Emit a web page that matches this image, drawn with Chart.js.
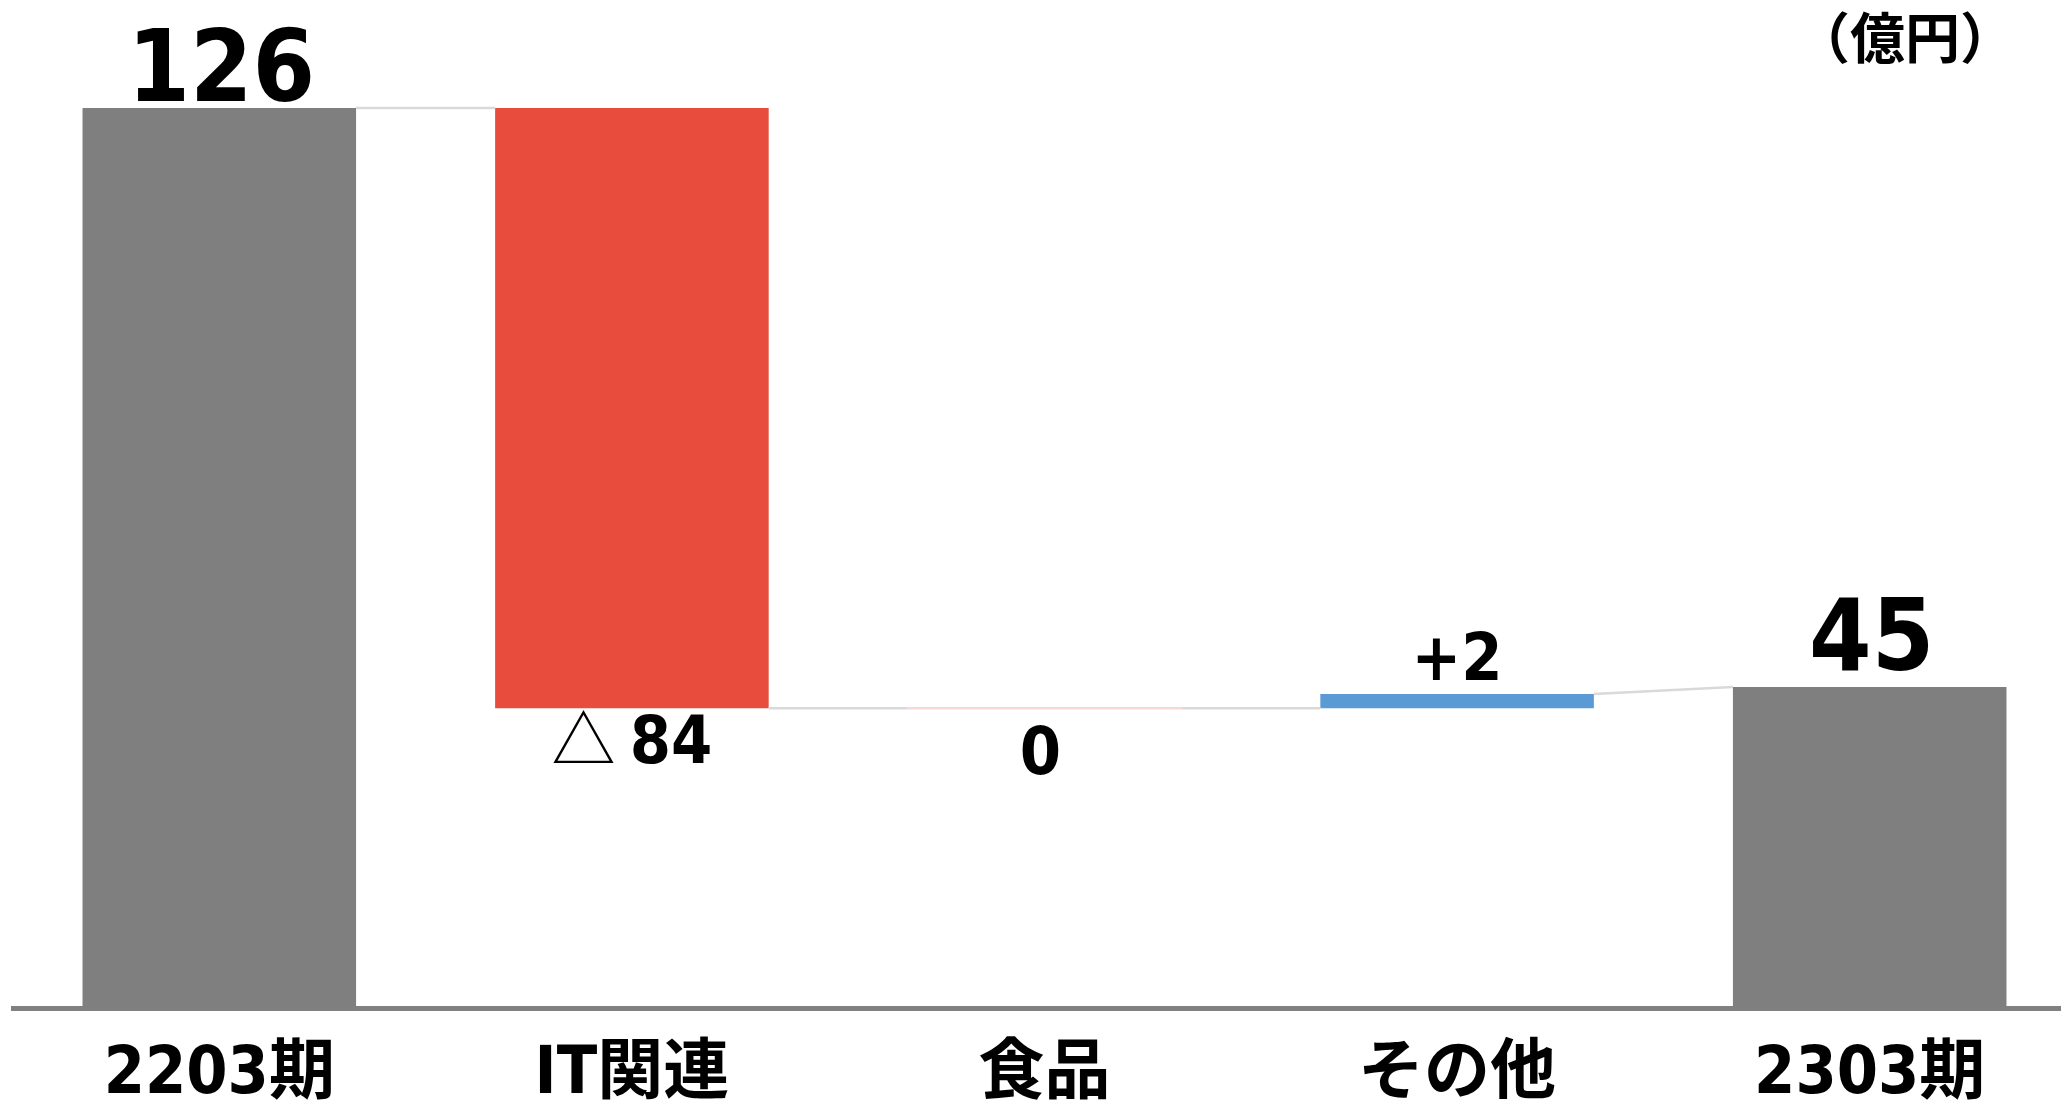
<!DOCTYPE html>
<html lang="ja">
<head>
<meta charset="utf-8">
<title>営業利益 増減</title>
<script src="https://cdn.jsdelivr.net/npm/chart.js@4.4.1/dist/chart.umd.min.js"></script>
<style>
    html, body { margin: 0; padding: 0; background: #fff; overflow: hidden; }
    #wrap { position: relative; width: 2076px; height: 1101px; }
</style>
</head>
<body>
<div id="wrap"><canvas id="bridgeChart"></canvas></div>
<script>
const categories = ["2203期", "IT関連", "食品", "その他", "2303期"];
const openingTotal = 126;
const changeValues = [-84, 0, 2];
const closingTotal = 45;
const unitLabel = "（億円）";

const FONT = '"DejaVu Sans Condensed", "Noto Sans CJK JP", sans-serif';
const CJK = '"Noto Sans CJK JP", sans-serif';
const GRAY = "#7f7f7f";
const RED = "#e84c3d";
const BLUE = "#5b9bd5";

// floating bar ranges plus the level each bar starts and ends at
const ranges = [[0, openingTotal]];
const startLevels = [openingTotal];
const endLevels = [openingTotal];
let level = openingTotal;
changeValues.forEach(c => {
    const next = level + c;
    ranges.push([Math.min(level, next), Math.max(level, next)]);
    startLevels.push(level);
    endLevels.push(next);
    level = next;
});
ranges.push([0, closingTotal]);
startLevels.push(closingTotal);
endLevels.push(closingTotal);

const barColors = [GRAY, ...changeValues.map(c => c > 0 ? BLUE : RED), GRAY];

const connectorPlugin = {
    id: "connectors",
    afterDatasetsDraw(chart) {
        const ctx = chart.ctx;
        const y = chart.scales.y;
        const bars = chart.getDatasetMeta(0).data;
        ctx.save();
        ctx.lineWidth = 2.5;
        for (let i = 0; i < bars.length - 1; i++) {
            const a = bars[i], b = bars[i + 1];
            ctx.strokeStyle = "#d9d9d9";
            ctx.beginPath();
            ctx.moveTo(a.x + a.width / 2, y.getPixelForValue(endLevels[i]));
            ctx.lineTo(b.x - b.width / 2, y.getPixelForValue(startLevels[i + 1]));
            ctx.stroke();
        }
        // flat changes still show a faint line across the bar
        bars.forEach((bar, i) => {
            if (i === 0 || i === bars.length - 1 || changeValues[i - 1] !== 0) return;
            const py = y.getPixelForValue(startLevels[i]);
            ctx.strokeStyle = "#f8d8d4";
            ctx.beginPath();
            ctx.moveTo(bar.x - bar.width / 2, py);
            ctx.lineTo(bar.x + bar.width / 2, py);
            ctx.stroke();
        });
        ctx.restore();
    }
};

const valueLabelPlugin = {
    id: "valueLabels",
    afterDatasetsDraw(chart) {
        const ctx = chart.ctx;
        const y = chart.scales.y;
        const bars = chart.getDatasetMeta(0).data;
        ctx.save();
        ctx.fillStyle = "#000";
        ctx.textBaseline = "alphabetic";
        bars.forEach((bar, i) => {
            const last = bars.length - 1;
            if (i === 0 || i === last) {
                const v = i === 0 ? openingTotal : closingTotal;
                ctx.font = "bold 100px " + FONT;
                ctx.textAlign = "center";
                ctx.fillText(String(v), bar.x + 2, y.getPixelForValue(v) - (i === 0 ? 7 : 17));
                return;
            }
            const c = changeValues[i - 1];
            ctx.font = "bold 66px " + FONT;
            if (c > 0) {
                ctx.textAlign = "center";
                ctx.fillText("+" + c, bar.x, y.getPixelForValue(endLevels[i]) - 14);
            } else if (c === 0) {
                ctx.textAlign = "center";
                ctx.fillText("0", bar.x - 4, y.getPixelForValue(endLevels[i]) + 66);
            } else {
                // triangle mark in regular weight, number in bold
                const num = String(Math.abs(c));
                ctx.font = "64px " + CJK;
                const triW = ctx.measureText("△ ").width;
                ctx.font = "bold 66px " + FONT;
                const numW = ctx.measureText(num).width;
                const x0 = bar.x - (triW + numW) / 2;
                const py = y.getPixelForValue(endLevels[i]) + 55;
                ctx.textAlign = "left";
                ctx.font = "64px " + CJK;
                ctx.fillText("△ ", x0, py);
                ctx.font = "bold 66px " + FONT;
                ctx.fillText(num, x0 + triW, py);
            }
        });
        // unit note, top right
        ctx.font = "bold 55px " + CJK;
        ctx.textAlign = "center";
        ctx.textBaseline = "middle";
        ctx.fillText(unitLabel, 1905, 37);
        ctx.restore();
    }
};

new Chart(document.getElementById("bridgeChart"), {
    type: "bar",
    data: {
        labels: categories,
        datasets: [{
            data: ranges,
            backgroundColor: barColors,
            borderWidth: 0,
            barPercentage: 0.663,
            categoryPercentage: 1.0
        }]
    },
    options: {
        responsive: true,
        maintainAspectRatio: false,
        animation: false,
        layout: { padding: { top: 8, left: 13, right: 0, bottom: 0 } },
        plugins: {
            legend: { display: false },
            tooltip: { enabled: false }
        },
        scales: {
            x: {
                grid: { display: false, drawTicks: false },
                border: { display: true, color: "#808080", width: 5 },
                ticks: {
                    color: "#000",
                    padding: 28,
                    font: { family: FONT, size: 66, weight: "bold" }
                },
                afterFit(scale) { scale.height = 92.5; }
            },
            y: {
                display: false,
                min: 0,
                max: 140
            }
        }
    },
    plugins: [connectorPlugin, valueLabelPlugin]
});
</script>
</body>
</html>
